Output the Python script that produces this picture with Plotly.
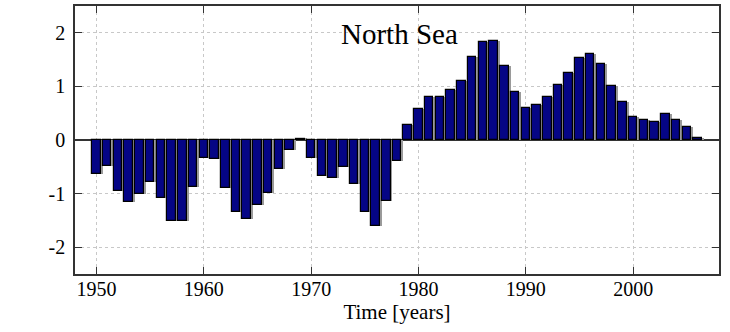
import plotly.graph_objects as go

years = list(range(1950, 2007))
values = [
    -0.64, -0.48, -0.96, -1.15, -1.00, -0.79, -1.09, -1.51, -1.51, -0.87,
    -0.33, -0.36, -0.90, -1.35, -1.48, -1.22, -0.98, -0.55, -0.18, 0.02,
    -0.34, -0.67, -0.70, -0.50, -0.82, -1.35, -1.61, -1.14, -0.40, 0.28,
    0.58, 0.81, 0.81, 0.93, 1.11, 1.55, 1.83, 1.85, 1.38, 0.90,
    0.59, 0.65, 0.80, 1.02, 1.25, 1.53, 1.60, 1.42, 1.00, 0.70,
    0.42, 0.38, 0.33, 0.49, 0.38, 0.24, 0.04,
]
x_ticks = [1950, 1960, 1970, 1980, 1990, 2000]
y_ticks = [-2, -1, 0, 1, 2]
title_text = "North Sea"
x_title = "Time [years]"

FONT = "Liberation Serif, Times New Roman, serif"

fig = go.Figure()
# shadow
fig.add_trace(go.Bar(
    x=years, y=values, width=0.8, offset=-0.22,
    marker=dict(color="#9a9a9a", line=dict(width=0)),
    hoverinfo="skip", showlegend=False,
))
fig.add_trace(go.Bar(
    x=years, y=values, width=0.8, offset=-0.4,
    marker=dict(color="#050585", line=dict(color="#000000", width=1.2)),
    showlegend=False,
))

fig.add_annotation(
    x=1978.2, y=1.97, xref="x", yref="y", text=title_text, showarrow=False,
    font=dict(family=FONT, size=29, color="#000"),
)

axis_common = dict(
    showline=True, linecolor="#333", linewidth=1.5, mirror="ticks",
    ticks="inside", ticklen=7, tickcolor="#333", tickwidth=1.2,
    showgrid=True, gridcolor="#c8c8c8", griddash="dot", gridwidth=1,
    tickfont=dict(family=FONT, size=20, color="#000"),
)

fig.update_xaxes(
    range=[1948, 2008], tickvals=x_ticks, ticktext=[str(t) for t in x_ticks],
    title=dict(text=x_title, font=dict(family=FONT, size=21, color="#000"), standoff=0),
    zeroline=False, ticklabelstandoff=-4, **axis_common,
)
fig.update_yaxes(
    range=[-2.5, 2.5], tickvals=y_ticks, ticktext=[str(t) for t in y_ticks],
    zeroline=True, zerolinecolor="#333", zerolinewidth=2,
    ticklabelstandoff=4,
    **axis_common,
)

fig.update_layout(
    width=730, height=332,
    margin=dict(l=75, r=11, t=4, b=58),
    plot_bgcolor="white", paper_bgcolor="white",
    barmode="overlay", bargap=0,
    font=dict(family=FONT),
)

fig.write_html("out.html")
